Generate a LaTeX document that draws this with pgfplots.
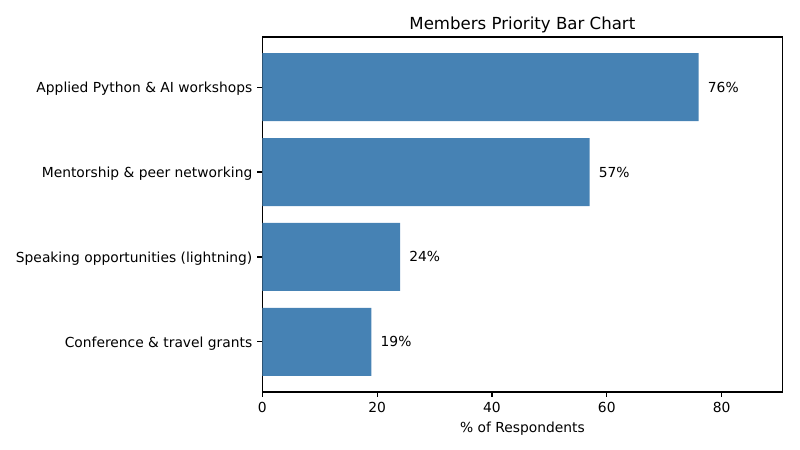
\documentclass[border=0pt]{standalone}
\usepackage{fontspec}
\setmainfont{DejaVu Sans}
\usepackage{pgfplots}
\pgfplotsset{compat=1.18}
\definecolor{barblue}{RGB}{70,130,180}

\begin{document}
\begin{tikzpicture}
  \useasboundingbox (0,0) rectangle (576bp,324bp);
  \begin{axis}[
      at={(188.86bp,41.76bp)}, anchor=south west,
      scale only axis,
      width=374.5bp, height=255.6bp,
      xbar, bar width=0.8,
      xmin=0, xmax=90.6,
      ymin=-0.59, ymax=3.59,
      xtick={0,20,40,60,80},
      ytick={0,1,2,3},
      yticklabels={Conference \& travel grants,
                   Speaking opportunities (lightning),
                   Mentorship \& peer networking,
                   Applied Python \& AI workshops},
      tick align=outside, tick pos=left,
      major tick length=3.5bp,
      tick style={black, line width=0.8bp},
      axis line style={line width=0.8bp},
      /pgf/number format/assume math mode=true,
      ticklabel style={font=\fontsize{10}{12}\selectfont},
      xticklabel style={inner sep=0pt, yshift=-3.5bp},
      yticklabel style={inner sep=0pt, xshift=-3.5bp, yshift=-1.3bp},
      xlabel={\% of Respondents},
      xlabel style={font=\fontsize{10}{12}\selectfont, yshift=-3bp},
      title={Members Priority Bar Chart},
      title style={font=\fontsize{12}{14}\selectfont, yshift=-6.3bp},
      point meta=x,
      nodes near coords={\pgfmathprintnumber{\pgfplotspointmeta}\%},
      every node near coord/.append style={anchor=west, inner sep=0pt,
        xshift=6.5bp, font=\fontsize{10}{12}\selectfont, black},
    ]
    \addplot[fill=barblue, draw=none] coordinates {(19,0) (24,1) (57,2) (76,3)};
  \end{axis}
\end{tikzpicture}
\end{document}
